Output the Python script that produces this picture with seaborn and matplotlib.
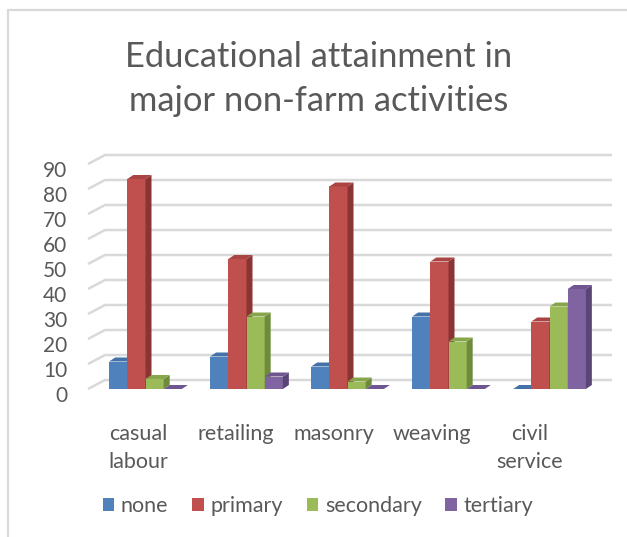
import matplotlib
matplotlib.use("Agg")
import matplotlib.pyplot as plt
from matplotlib.patches import Polygon, Patch
from matplotlib.lines import Line2D
from matplotlib.transforms import ScaledTranslation
import seaborn as sns
import pandas as pd

# ---- data -------------------------------------------------------------
activities = ["casual\nlabour", "retailing", "masonry", "weaving", "civil\nservice"]
levels = ["none", "primary", "secondary", "tertiary"]
none_vals = [11, 13, 9, 29, 0]
primary_vals = [84, 52, 81, 51, 27]
secondary_vals = [4, 29, 3, 19, 33]
tertiary_vals = [0, 5, 0, 0, 40]
y_ticks = [0, 10, 20, 30, 40, 50, 60, 70, 80, 90]

colors = ["#4F81BD", "#C0504D", "#9BBB59", "#8064A2"]
top_colors = ["#4472A8", "#A94442", "#87A64B", "#6E5691"]
side_colors = ["#37608F", "#8A3533", "#6E8A3B", "#5A4577"]

series = [none_vals, primary_vals, secondary_vals, tertiary_vals]
df = pd.DataFrame({
    "activity": [a for _ in levels for a in activities],
    "level": [lv for lv in levels for _ in activities],
    "value": [v for s in series for v in s],
})

# ---- figure / axes in pixel terms ---------------------------------------
W, H, DPI = 627, 537, 100
sns.set_theme(style="white")
plt.rcParams["font.family"] = ["Lato", "DejaVu Sans"]
fig = plt.figure(figsize=(W / DPI, H / DPI), dpi=DPI)

# front plane geometry (pixels): category i centred at X0 + STEP*i
X0, STEP = 145.5, 101.0
LEFT, RIGHT = 88.0, 600.0
Y_ZERO, Y_TOP = 389.0, 164.0          # pixel rows of 0 and 90
YMAX = 90.0
ppu_y = (Y_ZERO - Y_TOP) / YMAX        # pixels per value unit

ax = fig.add_axes([LEFT / W, 1 - Y_ZERO / H, (RIGHT - LEFT) / W, (Y_ZERO - Y_TOP) / H])


def px_to_dx(px):
    return px / STEP


def px_to_dy(px):
    return px / ppu_y


sns.barplot(data=df, x="activity", y="value", hue="level", hue_order=levels,
            order=activities, palette=colors, saturation=1, width=0.72,
            linewidth=0, legend=False, ax=ax)
ax.set_xlim((LEFT - X0) / STEP, (RIGHT - X0) / STEP)
ax.set_ylim(0, YMAX)

# ---- back wall gridlines with the slanted side-wall segment ---------------
grid_c = "#D9D9D9"
wall_dx, wall_dy = 17.0, 9.0
x_front = (LEFT - X0) / STEP
x_back = (LEFT + wall_dx - X0) / STEP
x_end = (612.0 - X0) / STEP
for v in y_ticks:
    vb = v + px_to_dy(wall_dy)
    ax.add_line(Line2D([x_front, x_back, x_end], [v, vb, vb], color=grid_c,
                       lw=1.8, zorder=1, clip_on=False, solid_capstyle="butt"))

# ---- 3-D faces on each bar ------------------------------------------------
ddx, ddy = px_to_dx(6.0), px_to_dy(4.0)
for j, cont in enumerate(ax.containers):
    for p in cont.patches:
        x0, w, h = p.get_x(), p.get_width(), p.get_height()
        z = 3 + j * 0.1
        p.set_zorder(z)
        p.set_clip_on(False)
        side = Polygon([(x0 + w, 0), (x0 + w + ddx, ddy), (x0 + w + ddx, h + ddy), (x0 + w, h)],
                       closed=True, facecolor=side_colors[j], edgecolor="none",
                       zorder=z + 0.01, clip_on=False)
        top = Polygon([(x0, h), (x0 + ddx, h + ddy), (x0 + w + ddx, h + ddy), (x0 + w, h)],
                      closed=True, facecolor=top_colors[j], edgecolor="none",
                      zorder=z + 0.02, clip_on=False)
        ax.add_patch(side)
        ax.add_patch(top)

# ---- axes styling ----------------------------------------------------------
for s in ax.spines.values():
    s.set_visible(False)
ax.set_xlabel("")
ax.set_ylabel("")
ax.set_yticks(y_ticks)
ax.set_yticklabels([str(t) for t in y_ticks])
ax.tick_params(axis="y", length=0, pad=15, labelsize=15, labelcolor="#595959")
ax.tick_params(axis="x", length=0, pad=25, labelsize=15.5, labelcolor="#595959")
for lbl in ax.get_yticklabels():
    lbl.set_transform(lbl.get_transform() + ScaledTranslation(0, -5 / DPI, fig.dpi_scale_trans))
for i, lbl in enumerate(ax.get_xticklabels()):
    lbl.set_linespacing(1.5)
    shift = -(7.5 + 3.0 * i) / DPI
    lbl.set_transform(lbl.get_transform() + ScaledTranslation(shift, 0, fig.dpi_scale_trans))

# ---- title -----------------------------------------------------------------
fig.text(319 / W, 1 - 79 / H, "Educational attainment in\nmajor non-farm activities",
         ha="center", va="center", fontsize=24.8, color="#595959", linespacing=1.45)

# ---- legend ------------------------------------------------------------------
handles = [Patch(facecolor=c, edgecolor="none") for c in colors]
fig.legend(handles, levels, loc="center", bbox_to_anchor=(318 / W, 1 - 506 / H), ncol=4,
           frameon=False, fontsize=15.5, labelcolor="#595959", handlelength=0.55,
           handleheight=0.55, handletextpad=0.3, columnspacing=1.1)

# ---- chart border ------------------------------------------------------------
fig.add_artist(Line2D([8 / W, 8 / W], [0, 1 - 10 / H], color=grid_c, lw=1.6,
                      transform=fig.transFigure))
fig.add_artist(Line2D([8 / W, 1], [1 - 10 / H, 1 - 10 / H], color=grid_c, lw=1.6,
                      transform=fig.transFigure))

fig.savefig("out.png", dpi=DPI)
